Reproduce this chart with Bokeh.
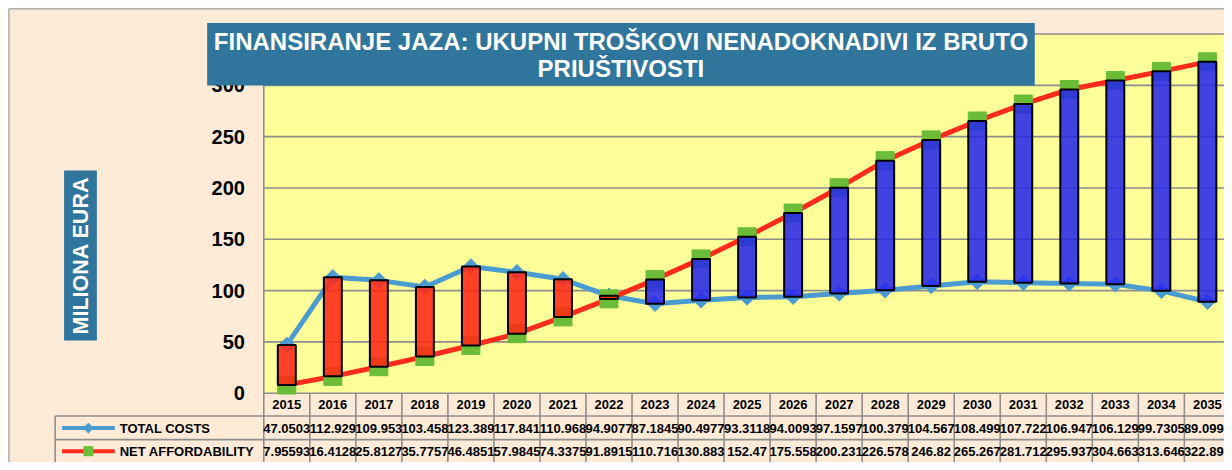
import numpy as np
from bokeh.plotting import figure
from bokeh.models import Range1d, ColumnDataSource
from bokeh.core.properties import value
from bokeh.embed import file_html
from bokeh.resources import INLINE

# ---------------- data ----------------
years = ["2015", "2016", "2017", "2018", "2019", "2020", "2021", "2022", "2023", "2024",
         "2025", "2026", "2027", "2028", "2029", "2030", "2031", "2032", "2033", "2034", "2035"]
total_costs = [47.0503, 112.929, 109.953, 103.458, 123.389, 117.841, 110.968, 94.9077, 87.1845,
               90.4977, 93.3118, 94.0093, 97.1597, 100.379, 104.567, 108.499, 107.722, 106.947,
               106.129, 99.7305, 89.0994]
net_affordability = [7.95593, 16.4128, 25.8127, 35.7757, 46.4851, 57.9845, 74.3375, 91.8915,
                     110.716, 130.883, 152.47, 175.558, 200.231, 226.578, 246.82, 265.267,
                     281.712, 295.937, 304.663, 313.646, 322.893]
y_ticks = [0, 50, 100, 150, 200, 250, 300]
series_names = ["TOTAL COSTS", "NET AFFORDABILITY"]
title_lines = ["FINANSIRANJE JAZA: UKUPNI TROŠKOVI NENADOKNADIVI IZ BRUTO", "PRIUŠTIVOSTI"]
y_label = "MILIONA EURA"

# ---------------- layout helpers (reference pixels -> data) ----------------
W, H = 1224, 462          # figure size (fits the window with the 8px page margin)
REF_W, REF_H = 1232, 470  # layout designed in reference pixels, scaled into the figure
CAT_PX = 46.33
PLOT_LEFT = 265.0
XS = -0.5 - PLOT_LEFT / CAT_PX
Y0 = 399.5
UNIT_PX = 1.044


def X(px):
    return XS + px / CAT_PX


def Y(py):
    return (Y0 - py) / UNIT_PX


x_start, x_end = X(0), X(REF_W)
y_bot, y_top = Y(REF_H), Y(0)

FONT = value("Liberation Sans")
PEACH = "#FDEBD7"
GRID = "#8E8E8E"
TITLE_BG = "#2F759C"
BLUE = "#4A9CD0"
RED = "#FF2B1C"
GREEN = "#6BBD38"

p = figure(width=W, height=H, x_range=Range1d(x_start, x_end), y_range=Range1d(y_bot, y_top),
           output_backend="svg", toolbar_location=None, min_border=0,
           x_axis_location=None, y_axis_location=None)
p.grid.visible = False
p.outline_line_color = None
p.background_fill_color = PEACH
p.border_fill_color = PEACH

idx = np.arange(len(years))
tc = np.array(total_costs)
na = np.array(net_affordability)

# white page strip outside the chart, and chart border (top and left)
p.quad(left=[x_start - 1, x_start - 1], right=[X(8), x_end + 1], bottom=[y_bot - 1, Y(8)],
       top=[y_top + 1, y_top + 1], fill_color="white", line_color=None)
p.segment(x0=[X(8.5), X(8.5)], y0=[y_bot, Y(8.5)], x1=[X(8.5), x_end + 1], y1=[Y(8.5), Y(8.5)],
          line_color="#8A8A8A", line_width=1)

# plot area
p.quad(left=[-0.5], right=[x_end + 1], bottom=[0], top=[350], fill_color="#FFFF99", line_color=None)
grid_vals = [50, 100, 150, 200, 250, 300, 350]
p.segment(x0=[-0.5] * len(grid_vals), x1=[x_end + 1] * len(grid_vals), y0=grid_vals, y1=grid_vals,
          line_color=GRID, line_width=1.6)

# table grid
row1_top, row2_top = Y(422.7), Y(446.7)
p.segment(x0=[-0.5], x1=[x_end + 1], y0=[0], y1=[0], line_color=GRID, line_width=1.6)
p.segment(x0=[X(55), X(55)], x1=[x_end + 1, x_end + 1], y0=[row1_top, row2_top], y1=[row1_top, row2_top],
          line_color=GRID, line_width=1.6)
p.segment(x0=[X(55)], x1=[X(55)], y0=[row1_top], y1=[y_bot], line_color=GRID, line_width=1.6)
p.segment(x0=[-0.5], x1=[-0.5], y0=[350], y1=[y_bot], line_color=GRID, line_width=1.6)
col_b = idx + 0.5
p.segment(x0=col_b, x1=col_b, y0=[0] * len(col_b), y1=[y_bot] * len(col_b), line_color=GRID, line_width=1.6)

# y tick labels
p.text(x=[X(246)] * len(y_ticks), y=y_ticks, text=[str(v) for v in y_ticks],
       text_font=FONT, text_font_style="bold", text_font_size=value("20px"),
       text_align="right", text_baseline="middle", text_color="black")

# category labels (table header)
p.text(x=idx, y=[Y(411.5)] * len(years), text=years, text_font=FONT, text_font_style="bold",
       text_font_size=value("13px"), text_align="center", text_baseline="middle", text_color="black")

# table values
p.text(x=idx, y=[Y(435)] * len(years), text=["{:.6g}".format(v) for v in total_costs],
       text_font=FONT, text_font_style="bold", text_font_size=value("13px"),
       text_align="center", text_baseline="middle", text_color="black")
p.text(x=idx, y=[Y(458.5)] * len(years), text=["{:.6g}".format(v) for v in net_affordability],
       text_font=FONT, text_font_style="bold", text_font_size=value("13px"),
       text_align="center", text_baseline="middle", text_color="black")

# legend keys in table
p.line(x=[X(62), X(115)], y=[Y(435), Y(435)], line_color=BLUE, line_width=4)
p.scatter(x=[X(88.5)], y=[Y(435)], marker="square", angle=np.pi / 4, size=7, color=BLUE)
p.line(x=[X(62), X(115)], y=[Y(458.5), Y(458.5)], line_color=RED, line_width=4)
p.scatter(x=[X(88.5)], y=[Y(458.5)], marker="square", size=9, color=GREEN)
p.text(x=[X(120), X(120)], y=[Y(435), Y(458.5)], text=series_names, text_font=FONT,
       text_font_style="bold", text_font_size=value("13px"), text_align="left",
       text_baseline="middle", text_color="black")

# series lines and markers
p.line(x=idx, y=tc, line_color=BLUE, line_width=5)
p.scatter(x=idx, y=tc, marker="square", angle=np.pi / 4, size=11, color=BLUE)
p.line(x=idx, y=na, line_color=RED, line_width=5)
p.scatter(x=idx, y=na, marker="square", size=18, color=GREEN)

# up/down bars
src = ColumnDataSource(dict(
    x=idx,
    bottom=np.minimum(tc, na),
    top=np.maximum(tc, na),
    color=["#2828EB" if n > t else "#FF2814" for t, n in zip(total_costs, net_affordability)],
))
p.vbar(x="x", bottom="bottom", top="top", width=0.39, fill_color="color", fill_alpha=0.88,
       line_color="black", line_width=2, source=src)

# title box
p.quad(left=[X(208)], right=[X(1041)], top=[Y(23)], bottom=[Y(86.5)], fill_color=TITLE_BG, line_color=None)
p.text(x=[X(624.5)] * 2, y=[Y(42), Y(69.5)], text=title_lines, text_font=FONT, text_font_style="bold",
       text_font_size=value("24px"), text_align="center", text_baseline="middle", text_color="white")

# y-axis label box
p.quad(left=[X(64)], right=[X(97)], top=[Y(173)], bottom=[Y(346)], fill_color=TITLE_BG, line_color=None)
p.text(x=[X(81)], y=[Y(259.5)], text=[y_label], angle=np.pi / 2, text_font=FONT, text_font_style="bold",
       text_font_size=value("21.5px"), text_align="center", text_baseline="middle", text_color="white")

open("out.html", "w").write(file_html(p, INLINE))
